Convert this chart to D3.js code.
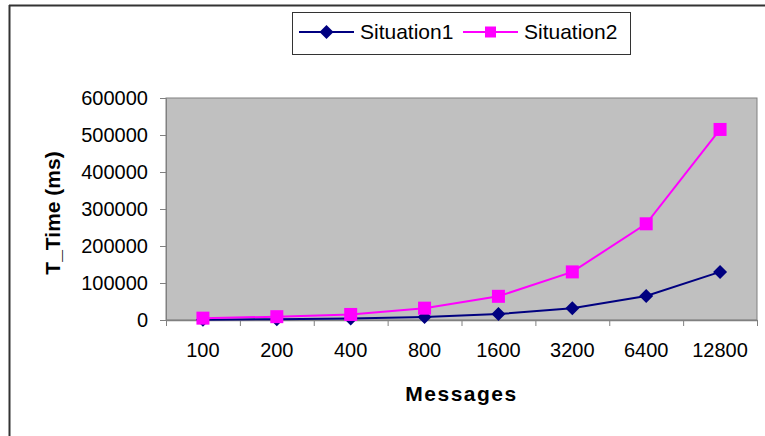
<!DOCTYPE html>
<html><head><meta charset="utf-8">
<script src="https://cdn.jsdelivr.net/npm/d3@7"></script>
<style>body{margin:0;background:#fff}svg{display:block}</style>
</head><body>
<svg id="c" width="765" height="436"></svg>
<script>
const categories = ["100","200","400","800","1600","3200","6400","12800"];
const situation1 = [1000, 2000, 4000, 8000, 16000, 32000, 65000, 130000];
const situation2 = [5000, 9000, 15000, 32000, 64000, 130000, 260000, 515000];
const yTicks = [0,100000,200000,300000,400000,500000,600000];
const seriesNames = ["Situation1","Situation2"];
const seriesColors = ["#000080","#FF00FF"];

const svg = d3.select("#c");
const W = 765, H = 436;
const L = 166, R = 757, T = 98, B = 320;

// outer frame
svg.append("line").attr("x1",9).attr("x2",W).attr("y1",5.5).attr("y2",5.5).attr("stroke","#333").attr("stroke-width",2);
svg.append("line").attr("x1",9.5).attr("x2",9.5).attr("y1",5).attr("y2",H).attr("stroke","#333").attr("stroke-width",2);

const x = d3.scaleBand().domain(categories).range([L,R]).padding(0);
const y = d3.scaleLinear().domain([0,600000]).range([B,T]);

svg.append("rect").attr("x",L).attr("y",T).attr("width",R-L).attr("height",B-T)
  .attr("fill","#C0C0C0").attr("stroke","#808080").attr("stroke-width",1);

const font = "Arial, 'Liberation Sans', sans-serif";

// y axis
const yAxis = svg.append("g").attr("transform",`translate(${L},0)`)
  .call(d3.axisLeft(y).tickValues(yTicks).tickSize(6).tickPadding(12).tickFormat(d3.format("d")));
yAxis.select(".domain").attr("stroke","#808080");
yAxis.selectAll(".tick line").attr("stroke","#808080");
yAxis.selectAll("text").attr("font-family",font).attr("font-size",20).attr("fill","#000");

// x axis
const xAxis = svg.append("g").attr("transform",`translate(0,${B})`)
  .call(d3.axisBottom(x).tickSize(0).tickPadding(23));
xAxis.select(".domain").attr("stroke","#808080").attr("stroke-width",1.5);
xAxis.selectAll("text").attr("font-family",font).attr("font-size",20).attr("fill","#000");
// category boundary ticks
const bounds = categories.map(c => x(c)).concat([R]);
svg.append("g").selectAll("line").data(bounds).join("line")
  .attr("x1",d=>d+0.5).attr("x2",d=>d+0.5).attr("y1",B).attr("y2",B+6)
  .attr("stroke","#808080");

// axis titles
svg.append("text").attr("x",(L+R)/2).attr("y",401).attr("text-anchor","middle")
  .attr("font-family",font).attr("font-weight","bold").attr("font-size",21).attr("letter-spacing",1.5)
  .text("Messages");
svg.append("text").attr("transform",`translate(60,${(T+B)/2+4}) rotate(-90)`).attr("text-anchor","middle")
  .attr("font-family",font).attr("font-weight","bold").attr("font-size",21)
  .text("T_Time (ms)");

const cx = c => x(c) + x.bandwidth()/2;
const line = d3.line().x((d,i)=>cx(categories[i])).y(d=>y(d));

function drawSeries(vals, color, shape){
  svg.append("path").datum(vals).attr("d",line).attr("fill","none").attr("stroke",color).attr("stroke-width",2);
  const g = svg.append("g");
  vals.forEach((v,i)=>{
    const px = cx(categories[i]), py = y(v);
    if(shape==="diamond"){
      g.append("path").attr("d",`M${px},${py-7}L${px+7},${py}L${px},${py+7}L${px-7},${py}Z`).attr("fill",color);
    } else {
      g.append("rect").attr("x",px-6.5).attr("y",py-6.5).attr("width",13).attr("height",13).attr("fill",color);
    }
  });
}
drawSeries(situation1, seriesColors[0], "diamond");
drawSeries(situation2, seriesColors[1], "square");

// legend
const lg = svg.append("g");
lg.append("rect").attr("x",292.5).attr("y",12.5).attr("width",338).attr("height",42).attr("fill","#fff").attr("stroke","#333");
const legItems = [{x:299, name:seriesNames[0], color:seriesColors[0], shape:"diamond"},{x:463, name:seriesNames[1], color:seriesColors[1], shape:"square"}];
legItems.forEach(it=>{
  const ly = 32;
  lg.append("line").attr("x1",it.x).attr("x2",it.x+55).attr("y1",ly).attr("y2",ly).attr("stroke",it.color).attr("stroke-width",2);
  const mx = it.x+27.5;
  if(it.shape==="diamond"){
    lg.append("path").attr("d",`M${mx},${ly-7}L${mx+7},${ly}L${mx},${ly+7}L${mx-7},${ly}Z`).attr("fill",it.color);
  } else {
    lg.append("rect").attr("x",mx-5.5).attr("y",ly-5.5).attr("width",11).attr("height",11).attr("fill",it.color);
  }
  lg.append("text").attr("x",it.x+61).attr("y",ly+7).attr("font-family",font).attr("font-size",21).text(it.name);
});
</script>
</body></html>
